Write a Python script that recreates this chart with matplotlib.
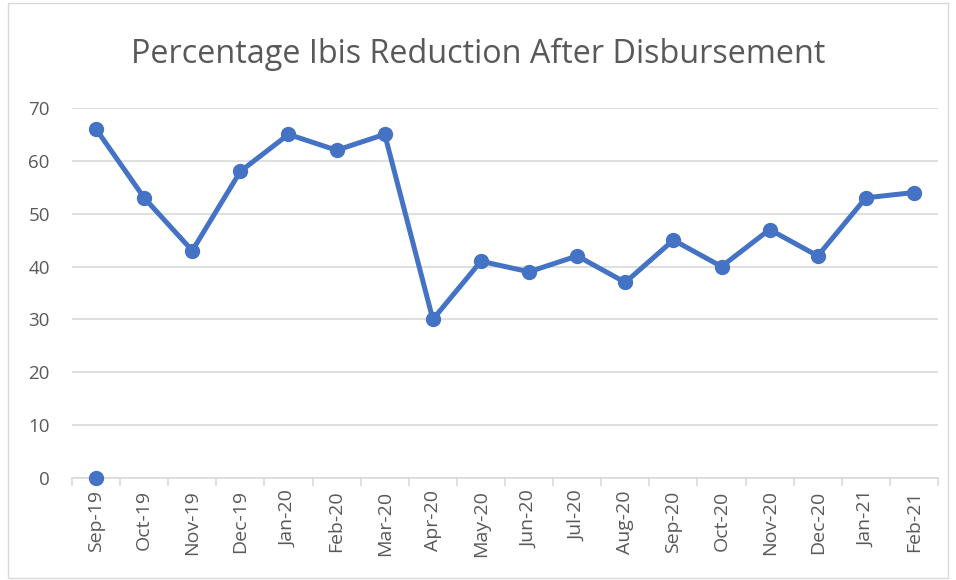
import numpy as np
import matplotlib.pyplot as plt
from matplotlib.patches import Rectangle

months = ['Sep-19', 'Oct-19', 'Nov-19', 'Dec-19', 'Jan-20', 'Feb-20', 'Mar-20',
          'Apr-20', 'May-20', 'Jun-20', 'Jul-20', 'Aug-20', 'Sep-20', 'Oct-20',
          'Nov-20', 'Dec-20', 'Jan-21', 'Feb-21']
reduction = [66, 53, 43, 58, 65, 62, 65, 30, 41, 39, 42, 37, 45, 40, 47, 42, 53, 54]
# second series: a single point at the first month
baseline_months = ['Sep-19']
baseline = [0]

blue = '#4472C4'
grey_txt = '#595959'
grid_col = '#D9D9D9'

plt.rcParams['font.family'] = ['Open Sans', 'DejaVu Sans']

fig = plt.figure(figsize=(9.56, 5.8), dpi=100)
ax = fig.add_axes([0.0753, 0.1759, 0.9059, 0.638])

x = np.arange(len(months))
ax.plot(x, reduction, color=blue, linewidth=3.6, marker='o', markersize=10,
        solid_capstyle='round', solid_joinstyle='round', zorder=3)
bx = [months.index(m) for m in baseline_months]
ax.plot(bx, baseline, linestyle='none', color=blue, marker='o', markersize=10,
        zorder=3, clip_on=False)

ax.set_xlim(-0.5, len(months) - 0.5)
ax.set_ylim(0, 70)
ax.set_yticks(range(0, 71, 10))
ax.yaxis.grid(True, color=grid_col, linewidth=1.2)
ax.set_axisbelow(True)

for s in ['top', 'right', 'left']:
    ax.spines[s].set_visible(False)
ax.spines['bottom'].set_color(grid_col)
ax.spines['bottom'].set_linewidth(1.2)

ax.set_xticks(x)
ax.set_xticklabels(months, rotation=90)
ax.set_xticks(np.arange(-0.5, len(months)), minor=True)
ax.tick_params(axis='x', which='major', length=0, pad=9, labelsize=14, labelcolor=grey_txt)
ax.tick_params(axis='x', which='minor', length=6, width=1.2, color=grid_col)
ax.tick_params(axis='y', length=0, pad=16, labelsize=13.5, labelcolor=grey_txt)

fig.text(0.5, 0.906, 'Percentage Ibis Reduction After Disbursement',
         ha='center', va='center', fontsize=23.3, color=grey_txt)

fig.patches.append(Rectangle((8 / 956, 0.004), 1 - 16 / 956, 0.99, transform=fig.transFigure,
                             fill=False, edgecolor=grid_col, linewidth=1.0))

fig.savefig('out.png', dpi=100)
